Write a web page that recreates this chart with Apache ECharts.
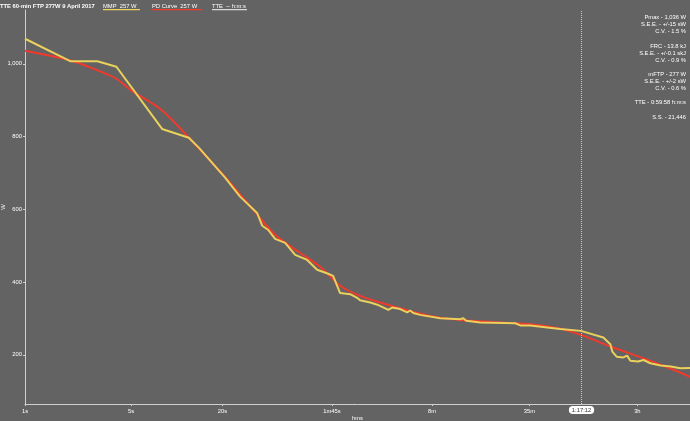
<!DOCTYPE html>
<html><head><meta charset="utf-8">
<script src="https://cdn.jsdelivr.net/npm/echarts@6/dist/echarts.min.js"></script>
<style>html,body{margin:0;padding:0;background:#636363}#c{width:690px;height:421px}</style>
</head><body><div id="c"></div>
<script>
const mmpSeconds = [1, 2, 3, 4, 8, 12, 14, 20.8, 26.1, 33.8, 36.5, 39.9, 44.4, 51.7, 60.2, 72.2, 84, 99.3, 107, 119, 138.6, 154, 161, 188, 209, 236, 247, 262, 296, 329, 344, 361, 401, 543, 736, 770, 806, 996, 1696, 1830, 2130, 3353, 4587, 6447, 7170, 7390, 7890, 8750, 9250, 9710, 10900, 11870, 13150, 15380, 17930, 20700, 24000];
const mmpWatts   = [1069, 1007, 1007, 992, 821, 797, 769, 687, 635, 590, 555, 544, 519, 508, 475, 461, 434, 423, 417, 370, 367, 357, 350, 344, 338, 328, 324, 330, 326, 317, 322, 315, 310, 301, 298, 301, 294, 289, 287, 281, 281, 271, 266, 248, 229, 209, 195, 193, 198, 184, 182, 186, 177, 171, 168, 163, 164];
const pdSeconds  = [1, 2, 3, 4, 5, 8, 12, 20.8, 32.7, 44.4, 65, 87.9, 119, 161, 218, 296, 466, 736, 1352, 2130, 3353, 4587, 7170, 11400, 16500, 24000];
const pdWatts    = [1036, 1009, 982, 959, 927, 872, 797, 689, 593, 530, 480, 442, 390, 362, 344, 328, 307, 296, 289, 284, 272, 255, 223, 193, 168, 140];
const xTickValues = [1, 5, 20, 105, 480, 2100, 10800];
const xTickLabels = ['1s', '5s', '20s', '1m45s', '8m', '35m', '3h'];
const yTickValues = [200, 400, 600, 800, 1000];
const cursorSeconds = 4632;
const cursorLabel = '1:17:12';
const statsLines = ['Pmax - 1,036 W', 'S.E.E. - +/-15 sW', 'C.V. - 1.5 %', '', 'FRC - 13.8 kJ', 'S.E.E. - +/-0.1 skJ', 'C.V. - 0.9 %', '', 'mFTP - 277 W', 'S.E.E. - +/-2 sW', 'C.V. - 0.6 %', '', 'TTE - 0:59:58 h:m:s', '', 'S.S. - 21,446'];
const titleText = 'TTE 60-min FTP 277W 9 April 2017';
const legendItems = [['MMP  257 W', '#e9d15c'], ['PD Curve  257 W', '#f2392b'], ['TTE  -- h:m:s', '#d8d8d8']];

const font = 'Liberation Sans, Arial, sans-serif';
const fs = 5.8;
const chart = echarts.init(document.getElementById('c'));
const zip = (a, b) => a.map((v, i) => [v, b[i]]);

const graphics = [];
graphics.push({type: 'text', x: 0, y: 3, style: {text: titleText, fill: '#fff', font: 'bold ' + fs + 'px ' + font}});
const legendX = [103, 152, 212];
const legendW = [37, 50, 35];
legendItems.forEach((it, i) => {
  graphics.push({type: 'text', x: legendX[i], y: 3, style: {text: it[0], fill: '#fff', font: fs + 'px ' + font}});
  graphics.push({type: 'rect', shape: {x: legendX[i], y: 9, width: legendW[i], height: 1.2}, style: {fill: it[1]}});
});
graphics.push({type: 'text', x: 686, y: 14, style: {text: statsLines.join('\n'), fill: '#fff', font: fs + 'px ' + font, lineHeight: 7.1, align: 'right', verticalAlign: 'top'}});

chart.setOption({
  backgroundColor: '#636363',
  animation: false,
  grid: {left: 25, right: 0, top: 10, bottom: 17, containLabel: false, outerBoundsMode: 'none'},
  graphic: graphics,
  xAxis: {
    type: 'log', logBase: Math.E, min: 1, max: 24000,
    name: 'hms', nameLocation: 'middle', nameGap: 11, nameMoveOverlap: false,
    nameTextStyle: {color: '#fff', fontSize: fs, fontFamily: font},
    axisLine: {lineStyle: {color: '#cfcfcf', width: 1}},
    axisTick: {show: true, length: 2, lineStyle: {color: '#cfcfcf'}, customValues: xTickValues},
    axisLabel: {color: '#fff', fontSize: fs, fontFamily: font, margin: 4, customValues: xTickValues,
      formatter: v => { const i = xTickValues.findIndex(t => Math.abs(t - v) / t < 0.01); return i >= 0 ? xTickLabels[i] : ''; }},
    splitLine: {show: false}, minorTick: {show: false}
  },
  yAxis: {
    type: 'value', min: 65, max: 1148,
    name: 'W', nameLocation: 'middle', nameGap: 19, nameRotate: 90, nameMoveOverlap: false,
    nameTextStyle: {color: '#fff', fontSize: fs, fontFamily: font},
    axisLine: {show: true, lineStyle: {color: '#cfcfcf', width: 1}},
    axisTick: {show: true, length: 2, lineStyle: {color: '#cfcfcf'}, customValues: yTickValues},
    axisLabel: {color: '#fff', fontSize: fs, fontFamily: font, margin: 3, customValues: yTickValues,
      formatter: v => v.toLocaleString('en-US')},
    splitLine: {show: false}
  },
  series: [
    {type: 'line', data: zip(pdSeconds, pdWatts), smooth: 0.3, showSymbol: false, symbol: 'none',
      lineStyle: {color: '#f2392b', width: 2}, z: 2},
    {type: 'line', data: zip(mmpSeconds, mmpWatts), showSymbol: false, symbol: 'none',
      lineStyle: {color: '#e9d15c', width: 2}, z: 3,
      markLine: {silent: true, symbol: 'none', animation: false,
        lineStyle: {type: 'dotted', color: '#c8c8c8', width: 1},
        label: {position: 'start', distance: 2, formatter: cursorLabel, color: '#333', backgroundColor: '#fff',
          borderRadius: 4, padding: [1, 3], fontSize: fs, fontFamily: font},
        data: [{xAxis: cursorSeconds}]}}
  ]
});
</script></body></html>
